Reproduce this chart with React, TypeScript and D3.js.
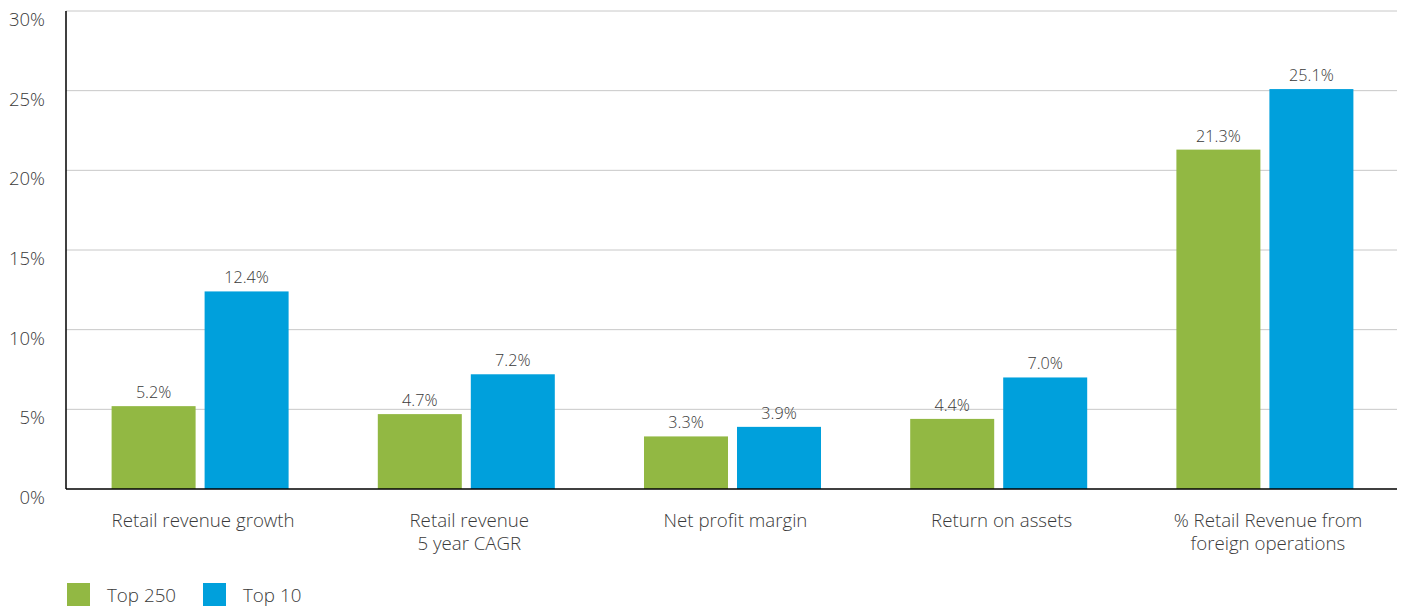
import React from "react";
import * as d3 from "d3";

const categories = [
  ["Retail revenue growth"],
  ["Retail revenue", "5 year CAGR"],
  ["Net profit margin"],
  ["Return on assets"],
  ["% Retail Revenue from", "foreign operations"],
];
const top250 = [5.2, 4.7, 3.3, 4.4, 21.3];
const top10 = [12.4, 7.2, 3.9, 7.0, 25.1];
const yTicks = [0, 5, 10, 15, 20, 25, 30];
const seriesNames = ["Top 250", "Top 10"];
const colors = ["#92B843", "#00A0DC"];

export default function App() {
  const W = 1402, H = 607;
  const left = 66, right = 1397, top = 11, bottom = 489;
  const x = d3.scaleBand<number>().domain(d3.range(categories.length)).range([left + 1, right + 1]);
  const y = d3.scaleLinear().domain([0, 30]).range([bottom, top]);
  const barW = 84, gap = 9;
  const font = "'Open Sans', sans-serif";
  const series = [top250, top10];
  const txt = "#3a3a3a";
  return (
    <svg width={W} height={H} style={{ position: "absolute", left: 0, top: 0 }} fontFamily={font}>
      {yTicks.map((t) => (
        <g key={t}>
          {t > 0 && (
            <line x1={left} x2={right} y1={y(t)} y2={y(t)} stroke="#c8c8c8" strokeWidth={1} />
          )}
          <text x={45} y={y(t) + 15} textAnchor="end" fontSize={18.5} fill={txt} fontWeight={300}>
            {t}%
          </text>
        </g>
      ))}
      {categories.map((c, i) => {
        const cx = (x(i) as number) + x.bandwidth() / 2;
        return (
          <g key={i}>
            {series.map((s, j) => {
              const bx = j === 0 ? cx - gap / 2 - barW : cx + gap / 2;
              return (
                <g key={j}>
                  <rect x={bx} y={y(s[i])} width={barW} height={bottom - y(s[i])} fill={colors[j]} />
                  <text x={bx + barW / 2} y={y(s[i]) - 8} textAnchor="middle" fontSize={16.2} fill={txt} fontWeight={300}>
                    {s[i].toFixed(1)}%
                  </text>
                </g>
              );
            })}
            {c.map((line, k) => (
              <text key={k} x={cx + 3} y={527 + k * 23} textAnchor="middle" fontSize={18.7} fill={txt} fontWeight={300}>
                {line}
              </text>
            ))}
          </g>
        );
      })}
      <line x1={left} x2={left} y1={top} y2={bottom} stroke="#000" strokeWidth={1.5} />
      <line x1={left} x2={right} y1={bottom} y2={bottom} stroke="#000" strokeWidth={1.5} />
      {seriesNames.map((n, j) => (
        <g key={n}>
          <rect x={67 + j * 136} y={583} width={23} height={23} fill={colors[j]} />
          <text x={107 + j * 136} y={602} fontSize={18.8} fill={txt} fontWeight={300}>
            {n}
          </text>
        </g>
      ))}
    </svg>
  );
}
